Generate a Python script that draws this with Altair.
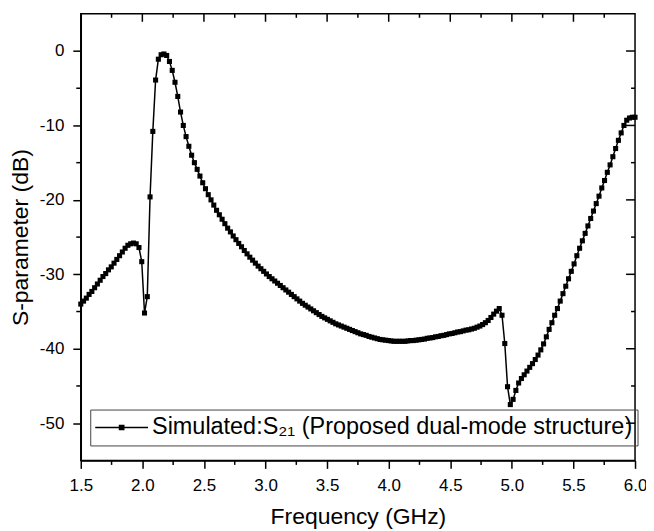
import altair as alt
import pandas as pd

# Frequency sweep (GHz)
freq = [
    1.5, 1.5225, 1.545, 1.5675, 1.59, 1.6125, 1.635, 1.6575, 1.68, 1.7025,
    1.725, 1.7475, 1.77, 1.7925, 1.815, 1.8375, 1.86, 1.8825, 1.905, 1.9275,
    1.95, 1.9725, 1.995, 2.0175, 2.04, 2.0625, 2.085, 2.1075, 2.13, 2.1525,
    2.175, 2.1975, 2.22, 2.2425, 2.265, 2.2875, 2.31, 2.3325, 2.355, 2.3775,
    2.4, 2.4225, 2.445, 2.4675, 2.49, 2.5125, 2.535, 2.5575, 2.58, 2.6025,
    2.625, 2.6475, 2.67, 2.6925, 2.715, 2.7375, 2.76, 2.7825, 2.805, 2.8275,
    2.85, 2.8725, 2.895, 2.9175, 2.94, 2.9625, 2.985, 3.0075, 3.03, 3.0525,
    3.075, 3.0975, 3.12, 3.1425, 3.165, 3.1875, 3.21, 3.2325, 3.255, 3.2775,
    3.3, 3.3225, 3.345, 3.3675, 3.39, 3.4125, 3.435, 3.4575, 3.48, 3.5025,
    3.525, 3.5475, 3.57, 3.5925, 3.615, 3.6375, 3.66, 3.6825, 3.705, 3.7275,
    3.75, 3.7725, 3.795, 3.8175, 3.84, 3.8625, 3.885, 3.9075, 3.93, 3.9525,
    3.975, 3.9975, 4.02, 4.0425, 4.065, 4.0875, 4.11, 4.1325, 4.155, 4.1775,
    4.2, 4.2225, 4.245, 4.2675, 4.29, 4.3125, 4.335, 4.3575, 4.38, 4.4025,
    4.425, 4.4475, 4.47, 4.4925, 4.515, 4.5375, 4.56, 4.5825, 4.605, 4.6275,
    4.65, 4.6725, 4.695, 4.7175, 4.74, 4.7625, 4.785, 4.8075, 4.83, 4.8525,
    4.875, 4.8975, 4.92, 4.9425, 4.965, 4.9875, 5.01, 5.0325, 5.055, 5.0775,
    5.1, 5.1225, 5.145, 5.1675, 5.19, 5.2125, 5.235, 5.2575, 5.28, 5.3025,
    5.325, 5.3475, 5.37, 5.3925, 5.415, 5.4375, 5.46, 5.4825, 5.505, 5.5275,
    5.55, 5.5725, 5.595, 5.6175, 5.64, 5.6625, 5.685, 5.7075, 5.73, 5.7525,
    5.775, 5.7975, 5.82, 5.8425, 5.865, 5.8875, 5.91, 5.9325, 5.955, 5.9775,
    6.0,
]

# Simulated S21 (dB)
s21 = [
    -34.0, -33.6, -33.2, -32.7, -32.3, -31.8, -31.3, -30.8, -30.3, -29.9,
    -29.4, -29.0, -28.5, -28.0, -27.5, -27.0, -26.5, -26.1, -25.9, -25.8,
    -25.9, -26.4, -28.3, -35.2, -33.0, -19.6, -10.8, -3.9, -1.1, -0.5,
    -0.4, -0.6, -1.4, -2.6, -4.2, -6.1, -8.2, -10.0, -11.5, -12.8,
    -14.0, -15.0, -15.9, -16.8, -17.7, -18.5, -19.3, -20.0, -20.7, -21.4,
    -22.0, -22.6, -23.2, -23.8, -24.3, -24.85, -25.35, -25.85, -26.3, -26.8,
    -27.25, -27.7, -28.1, -28.5, -28.9, -29.25, -29.6, -29.95, -30.3, -30.6,
    -30.9, -31.2, -31.5, -31.8, -32.1, -32.4, -32.7, -33.0, -33.3, -33.6,
    -33.9, -34.15, -34.4, -34.65, -34.9, -35.15, -35.4, -35.65, -35.85, -36.05,
    -36.25, -36.45, -36.65, -36.8, -36.95, -37.1, -37.25, -37.4, -37.55, -37.7,
    -37.85, -38.0, -38.1, -38.2, -38.35, -38.45, -38.55, -38.65, -38.75, -38.8,
    -38.85, -38.9, -38.95, -39.0, -39.0, -39.0, -39.0, -39.0, -38.95, -38.9,
    -38.9, -38.85, -38.8, -38.75, -38.7, -38.6, -38.55, -38.5, -38.4, -38.35,
    -38.25, -38.2, -38.1, -38.0, -37.95, -37.85, -37.75, -37.7, -37.6, -37.5,
    -37.45, -37.35, -37.25, -37.1, -36.95, -36.75, -36.5, -36.2, -35.8, -35.35,
    -34.95, -34.6, -35.5, -39.3, -45.1, -47.5, -46.8, -45.6, -44.6, -44.0,
    -43.5, -43.0, -42.5, -42.0, -41.45, -40.85, -40.15, -39.35, -38.4, -37.4,
    -36.5, -35.5, -34.6, -33.6, -32.6, -31.6, -30.6, -29.6, -28.6, -27.5,
    -26.5, -25.5, -24.5, -23.5, -22.5, -21.5, -20.5, -19.5, -18.4, -17.4,
    -16.3, -15.3, -14.2, -13.1, -12.0, -11.0, -10.0, -9.3, -9.0, -8.9,
    -8.9,
]

series_label = "Simulated:S\u2082\u2081 (Proposed dual-mode structure)"

x_major = [1.5, 2.0, 2.5, 3.0, 3.5, 4.0, 4.5, 5.0, 5.5, 6.0]
x_major_inner = [2.0, 2.5, 3.0, 3.5, 4.0, 4.5, 5.0, 5.5]
x_minor = [1.75, 2.25, 2.75, 3.25, 3.75, 4.25, 4.75, 5.25, 5.75]
y_major = [-50, -40, -30, -20, -10, 0]
y_minor = [-45, -35, -25, -15, -5]

W, H = 556, 448
FONT = "Liberation Sans"

df = pd.DataFrame({"f": freq, "s": s21, "series": [series_label] * len(freq)})

xs = alt.Scale(domain=[1.5, 6.0], nice=False, zero=False)
ys = alt.Scale(domain=[-55, 5], nice=False, zero=False)

x_axis = alt.Axis(
    values=x_major, format=".1f", title="Frequency (GHz)", grid=False,
    tickSize=8, tickWidth=1.5, tickColor="black",
    domainColor="black", domainWidth=1.5,
    labelFont=FONT, labelFontSize=17, labelColor="black", labelPadding=9,
    labelFlush=False, labelOverlap=False,
    titleFont=FONT, titleFontSize=23, titleFontWeight="normal", titleColor="black",
    titlePadding=12,
)
y_axis = alt.Axis(
    values=y_major, labelExpr="'' + datum.value", title="S-parameter (dB)", grid=False,
    tickSize=8, tickWidth=1.5, tickColor="black",
    domainColor="black", domainWidth=1.5,
    labelFont=FONT, labelFontSize=17, labelColor="black", labelPadding=9,
    labelFlush=False, labelOverlap=False,
    titleFont=FONT, titleFontSize=23, titleFontWeight="normal", titleColor="black",
    titlePadding=7,
)

legend_symbol = "M-1,0L1,0M-0.08,-0.08L0.08,-0.08L0.08,0.08L-0.08,0.08Z"

line = alt.Chart(df).mark_line(strokeWidth=1.5).encode(
    x=alt.X("f:Q", scale=xs, axis=x_axis),
    y=alt.Y("s:Q", scale=ys, axis=y_axis),
    color=alt.Color(
        "series:N",
        scale=alt.Scale(range=["black"]),
        legend=alt.Legend(
            title=None, orient="none", legendX=9.5, legendY=397,
            strokeColor="#444444", padding=4, clipHeight=28,
            symbolType=legend_symbol, symbolSize=2809,
            symbolStrokeWidth=1.5, symbolStrokeColor="black", symbolFillColor="black",
            labelFont=FONT, labelFontSize=23.5, labelColor="black",
            labelOffset=3, labelLimit=700,
        ),
    ),
)

points = alt.Chart(df).mark_point(
    shape="square", filled=True, size=26, color="black", opacity=1
).encode(x=alt.X("f:Q", scale=xs), y=alt.Y("s:Q", scale=ys))

tick_style = dict(color="black", strokeWidth=1.5)

bottom_minor = alt.Chart(pd.DataFrame({"f": x_minor})).mark_rule(**tick_style).encode(
    x=alt.X("f:Q", scale=xs), y=alt.value(H), y2=alt.value(H + 4.5)
)
top_major = alt.Chart(pd.DataFrame({"f": x_major_inner})).mark_rule(**tick_style).encode(
    x=alt.X("f:Q", scale=xs), y=alt.value(0), y2=alt.value(8)
)
top_minor = alt.Chart(pd.DataFrame({"f": x_minor})).mark_rule(**tick_style).encode(
    x=alt.X("f:Q", scale=xs), y=alt.value(0), y2=alt.value(4)
)
left_minor = alt.Chart(pd.DataFrame({"s": y_minor})).mark_rule(**tick_style).encode(
    y=alt.Y("s:Q", scale=ys), x=alt.value(0), x2=alt.value(-4.5)
)
right_major = alt.Chart(pd.DataFrame({"s": y_major})).mark_rule(**tick_style).encode(
    y=alt.Y("s:Q", scale=ys), x=alt.value(W - 9), x2=alt.value(W)
)
right_minor = alt.Chart(pd.DataFrame({"s": y_minor})).mark_rule(**tick_style).encode(
    y=alt.Y("s:Q", scale=ys), x=alt.value(W - 4), x2=alt.value(W)
)

chart = alt.layer(
    line, points, bottom_minor, top_major, top_minor, left_minor, right_major, right_minor
).properties(
    width=W, height=H,
    autosize=alt.AutoSizeParams(type="none"),
    padding={"left": 73, "top": 5, "right": 11, "bottom": 68},
    background="white",
).configure_view(
    stroke="black", strokeWidth=1.5
)

chart.save("out.html", embed_options={"renderer": "svg", "actions": False})
